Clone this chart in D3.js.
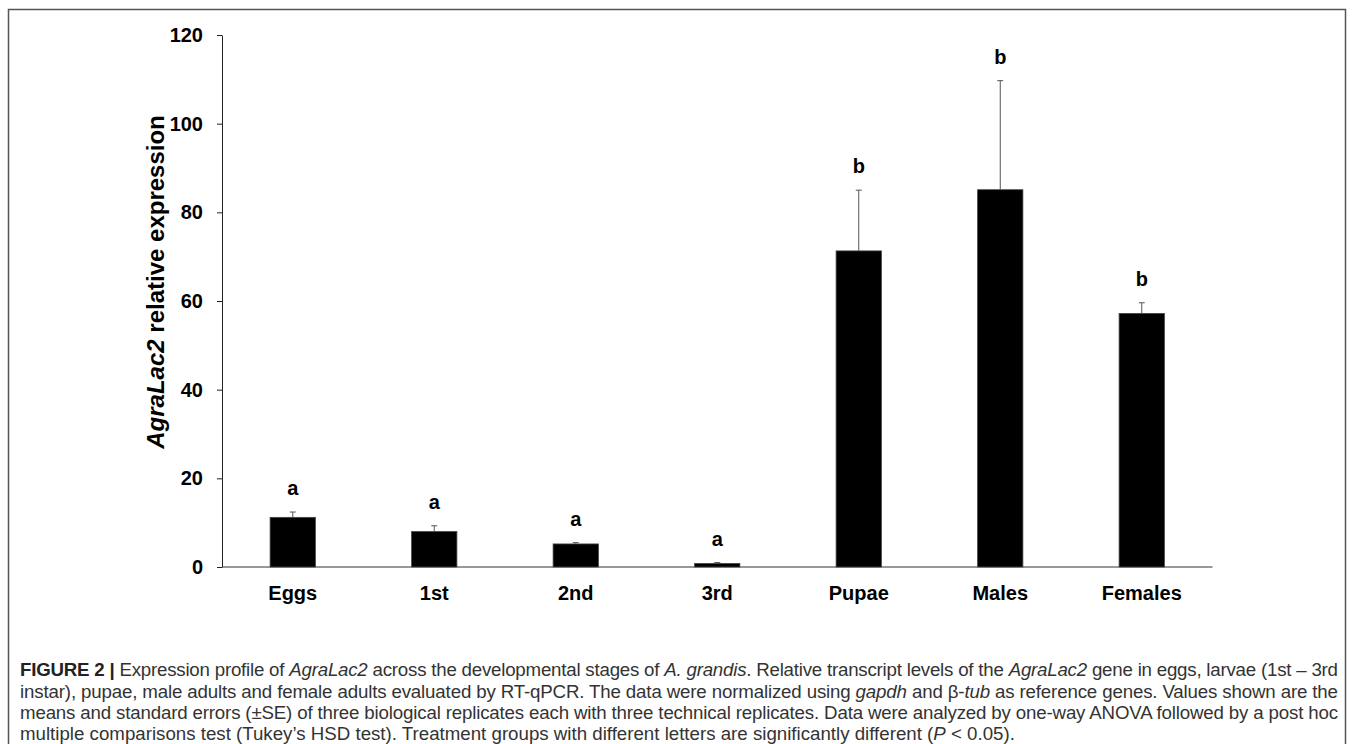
<html>
<head>
<meta charset="utf-8">
<title>AgraLac2 expression</title>
<style>
  body { margin: 0; background: #fff; }
  svg { display: block; }
  .tick text { font-family: "Liberation Sans", Arial, sans-serif; font-weight: bold; font-size: 20px; fill: #000; }
</style>
</head>
<body>
<div id="graph"></div>
<script src="https://cdnjs.cloudflare.com/ajax/libs/d3/7.8.5/d3.min.js"></script>
<script>
// values
var stages = ["Eggs", "1st", "2nd", "3rd", "Pupae", "Males", "Females"];
var means = [11.2, 8.0, 5.2, 0.8, 71.3, 85.1, 57.2];
var errors = [1.2, 1.3, 0.3, 0.2, 13.7, 24.6, 2.4];
var letters = ["a", "a", "a", "a", "b", "b", "b"];
var yTicks = [0, 20, 40, 60, 80, 100, 120];

var W = 1357, H = 744;
var svg = d3.select("#graph").append("svg")
    .attr("width", W)
    .attr("height", H);

// frame round the whole figure
svg.append("rect")
    .attr("x", 8.5).attr("y", 9.5)
    .attr("width", 1337).attr("height", 760)
    .attr("fill", "none")
    .attr("stroke", "#555")
    .attr("stroke-width", 1.5);

var x = d3.scaleBand()
    .domain(stages)
    .range([222, 1212.5])
    .paddingInner(0.68)
    .paddingOuter(0.34);

var y = d3.scaleLinear()
    .domain([0, 120])
    .range([567, 35]);

var rows = stages.map(function(s, i) {
    return { stage: s, mean: means[i], se: errors[i], letter: letters[i] };
});

// y axis
var yAxis = svg.append("g")
    .attr("transform", "translate(222,0)")
    .call(d3.axisLeft(y).tickValues(yTicks).tickSize(5).tickSizeOuter(0).tickPadding(14));
yAxis.select(".domain").attr("stroke", "#222");
yAxis.selectAll(".tick line").attr("stroke", "#222");

// x axis line + labels
svg.append("line")
    .attr("x1", 222).attr("x2", 1212.5)
    .attr("y1", y(0)).attr("y2", y(0))
    .attr("stroke", "#333");

svg.selectAll(".xlab")
    .data(rows)
    .enter().append("text")
    .attr("class", "xlab")
    .attr("x", function(d) { return x(d.stage) + x.bandwidth() / 2; })
    .attr("y", 600)
    .attr("text-anchor", "middle")
    .style("font-family", "'Liberation Sans', Arial, sans-serif")
    .style("font-weight", "bold")
    .style("font-size", "20px")
    .text(function(d) { return d.stage; });

// bars
svg.selectAll(".bar")
    .data(rows)
    .enter().append("rect")
    .attr("class", "bar")
    .attr("x", function(d) { return x(d.stage); })
    .attr("width", x.bandwidth())
    .attr("y", function(d) { return y(d.mean); })
    .attr("height", function(d) { return y(0) - y(d.mean); })
    .attr("fill", "#000")
    .attr("stroke", "#444")
    .attr("stroke-width", 0.8);

// error bars (upper only)
var eb = svg.selectAll(".err")
    .data(rows)
    .enter().append("g")
    .attr("class", "err")
    .attr("stroke", "#555")
    .attr("stroke-width", 1);
eb.append("line")
    .attr("x1", function(d) { return x(d.stage) + x.bandwidth() / 2; })
    .attr("x2", function(d) { return x(d.stage) + x.bandwidth() / 2; })
    .attr("y1", function(d) { return y(d.mean); })
    .attr("y2", function(d) { return y(d.mean + d.se); });
eb.append("line")
    .attr("x1", function(d) { return x(d.stage) + x.bandwidth() / 2 - 3; })
    .attr("x2", function(d) { return x(d.stage) + x.bandwidth() / 2 + 3; })
    .attr("y1", function(d) { return y(d.mean + d.se); })
    .attr("y2", function(d) { return y(d.mean + d.se); });

// significance letters
svg.selectAll(".letter")
    .data(rows)
    .enter().append("text")
    .attr("class", "letter")
    .attr("x", function(d) { return x(d.stage) + x.bandwidth() / 2; })
    .attr("y", function(d) { return y(d.mean + d.se) - 17; })
    .attr("text-anchor", "middle")
    .style("font-family", "'Liberation Sans', Arial, sans-serif")
    .style("font-weight", "bold")
    .style("font-size", "20px")
    .text(function(d) { return d.letter; });

// y title
var yt = svg.append("text")
    .attr("transform", "translate(164,282) rotate(-90)")
    .attr("text-anchor", "middle")
    .style("font-family", "'Liberation Sans', Arial, sans-serif")
    .style("font-weight", "bold")
    .style("font-size", "24px");
yt.append("tspan").style("font-style", "italic").text("AgraLac2");
yt.append("tspan").text(" relative expression");

// caption
var caption = [
  [["b", "FIGURE 2 | "], ["", "Expression profile of "], ["i", "AgraLac2"], ["", " across the developmental stages of "], ["i", "A. grandis"], ["", ". Relative transcript levels of the "], ["i", "AgraLac2"], ["", " gene in eggs, larvae (1st \u2013 3rd"]],
  [["", "instar), pupae, male adults and female adults evaluated by RT-qPCR. The data were normalized using "], ["i", "gapdh"], ["", " and \u03b2-"], ["i", "tub"], ["", " as reference genes. Values shown are the"]],
  [["", "means and standard errors (\u00b1SE) of three biological replicates each with three technical replicates. Data were analyzed by one-way ANOVA followed by a post hoc"]],
  [["", "multiple comparisons test (Tukey\u2019s HSD test). Treatment groups with different letters are significantly different ("], ["i", "P"], ["", " < 0.05)."]]
];
var capY = [676, 698, 719, 740];

caption.forEach(function(parts, i) {
    var t = svg.append("text")
        .attr("x", 20)
        .attr("y", capY[i])
        .style("font-family", "'Liberation Sans', Arial, sans-serif")
        .style("font-size", "18.7px")
        .attr("fill", "#333");
    if (i < 3) t.attr("textLength", 1318).attr("lengthAdjust", "spacing");
    parts.forEach(function(p) {
        var s = t.append("tspan").text(p[1]);
        if (p[0] == "b") s.style("font-weight", "bold").attr("fill", "#222");
        if (p[0] == "i") s.style("font-style", "italic");
    });
});
</script>
</body>
</html>
